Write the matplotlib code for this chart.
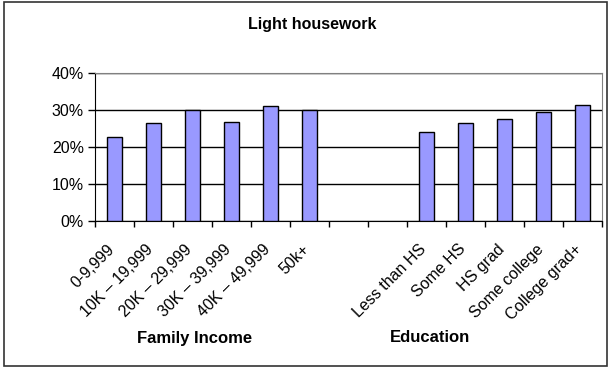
import matplotlib.pyplot as plt
from matplotlib.patches import Rectangle
from matplotlib.ticker import FixedLocator, PercentFormatter
from matplotlib.transforms import ScaledTranslation
import numpy as np

plt.rcParams['font.family'] = ['Liberation Sans', 'DejaVu Sans']

income_labels = ['0-9,999', '10K \u2013 19,999', '20K \u2013 29,999',
                 '30K \u2013 39,999', '40K \u2013 49,999', '50k+']
income_values = [22.5, 26.3, 30.0, 26.7, 31.0, 30.0]

edu_labels = ['Less than HS', 'Some HS', 'HS grad', 'Some college', 'College grad+']
edu_values = [23.9, 26.3, 27.6, 29.3, 31.4]

gap = 2  # empty slots between the two groups

W, H = 611, 368
fig = plt.figure(figsize=(W / 100, H / 100), dpi=100)
ax = fig.add_axes([95 / W, 147.3 / H, (602 - 95) / W, (295.3 - 147.3) / H])

x_inc = np.arange(len(income_values))
x_edu = np.arange(len(edu_values)) + len(income_values) + gap
n = len(income_values) + gap + len(edu_values)

bar_kw = dict(width=0.385, color='#9999FF', edgecolor='black', linewidth=1.0, zorder=3)
ax.bar(x_inc, income_values, **bar_kw)
ax.bar(x_edu, edu_values, **bar_kw)

ax.set_xlim(-0.5, n - 0.5)
ax.set_ylim(0, 40)
ax.set_yticks([0, 10, 20, 30, 40])
ax.yaxis.set_major_formatter(PercentFormatter(decimals=0))
ax.yaxis.grid(True, color='black', linewidth=1.0, zorder=0)

# tick marks at category boundaries, labels at category centres
ax.xaxis.set_major_locator(FixedLocator(np.arange(n + 1) - 0.5))
ax.set_xticklabels([])
ax.set_xticks(list(x_inc) + list(x_edu), minor=True)
ax.set_xticklabels(income_labels + edu_labels, minor=True,
                   rotation=45, ha='right', va='top', rotation_mode='anchor')
ax.tick_params(axis='x', which='major', length=4, width=1, direction='out')
ax.tick_params(axis='x', which='minor', length=0, pad=15, labelsize=11.5)
ax.tick_params(axis='y', length=5, width=1, labelsize=11.5, pad=3)

# nudge the slanted labels a little to the left
shift = ScaledTranslation(-8 / 100, 0, fig.dpi_scale_trans)
for lab in ax.get_xticklabels(minor=True):
    lab.set_transform(lab.get_transform() + shift)

for s in ['top', 'right']:
    ax.spines[s].set_color('#808080')
for s in ['left', 'bottom']:
    ax.spines[s].set_color('black')

fig.text(312 / W, 1 - 25 / H, 'Light housework', ha='center', va='center',
         fontsize=11.5, fontweight='bold')
fig.text(195 / W, 1 - 338 / H, 'Family Income', ha='center', va='center',
         fontsize=12, fontweight='bold')
fig.text(430 / W, 1 - 338 / H, 'Education', ha='center', va='center',
         fontsize=12, fontweight='bold')

fig.patches.append(Rectangle((4 / W, 2 / H), (607 - 4) / W, (366 - 2) / H,
                             transform=fig.transFigure, fill=False,
                             edgecolor='#333333', linewidth=1.2))

fig.savefig('out.png', dpi=100)
